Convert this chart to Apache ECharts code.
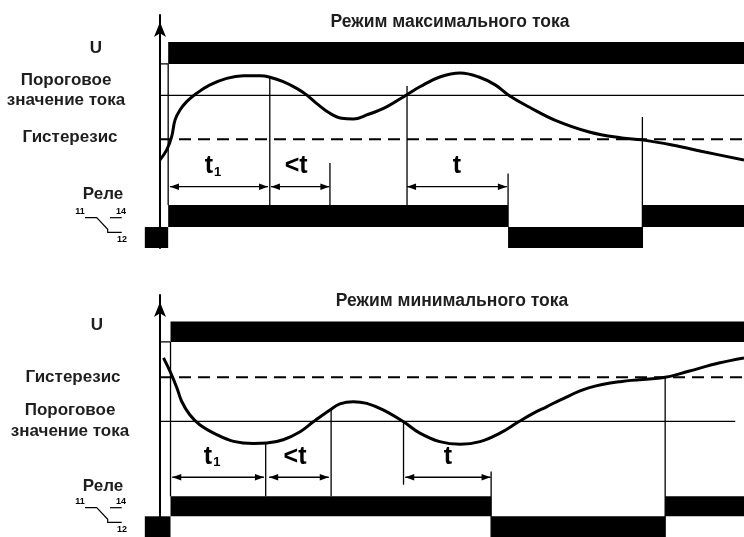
<!DOCTYPE html>
<html><head><meta charset="utf-8">
<script src="https://cdn.jsdelivr.net/npm/echarts@6/dist/echarts.min.js"></script>
<style>html,body{margin:0;padding:0;background:#fff}#c{width:744px;height:537px}</style>
</head><body><div id="c"></div>
<script>
const FONT = '"Liberation Sans", Arial, Helvetica, sans-serif';

// ===== Panel 1: Режим максимального тока (time 0..100, level 0..100)
const maxTitle = 'Режим максимального тока';
const maxCurve = [[0,37.8],[1.15,42.1],[2.0,47.8],[2.57,54.9],[3.42,59.2],[4.57,62.8],[6.28,66.4],[8.56,70.0],[11.42,72.8],[14.26,73.9],[17.12,73.9],[18.84,73.3],[21.1,71.4],[23.4,68.5],[25.1,65.7],[26.8,62.1],[29.1,57.8],[31.1,55.7],[33.1,55.4],[35.4,57.1],[38.8,60.6],[42.2,65.7],[44.5,69.2],[47.9,73.4],[51.4,75.1],[54.6,73.4],[57.4,70.0],[59.9,65.2],[63.2,60.5],[67.6,54.9],[73.5,49.8],[79.1,47.2],[82.5,46.4],[87.7,44.2],[93.3,41.2],[100,37.8]];
const maxThreshold = 65.5;
const maxHysteresis = 46.7;
const maxU = [[1.4,100,79.0,88.4]];               // [start, end, low, high]
const maxULow = [[0,79.0],[1.4,79.0]];
const maxRelay = [[-2.6,1.4,0,9.0],[1.4,59.6,9.0,18.5],[59.6,82.6,0,9.0],[82.6,100,9.0,18.5]];
const maxMarkers = [[1.4,18.5,79.0],[18.8,18.5,73.3],[29.1,18.5,36.5],[42.3,18.5,69.5],[59.6,9.0,32.0],[82.6,0,56.2]];
const maxSpans = [[1.7,18.5,26.3],[19.0,29.0,26.3],[42.3,59.4,26.3]];
const maxSpanLabels = ['t1','<t','t'];

// ===== Panel 2: Режим минимального тока
const minTitle = 'Режим минимального тока';
const minCurve = [[0.6,74.0],[1.7,68.5],[2.9,61.6],[3.7,56.1],[5.1,50.5],[6.8,46.4],[9.7,42.3],[12.6,39.5],[16.0,38.6],[18.3,38.8],[21.1,40.2],[24.0,43.5],[26.25,47.6],[29.1,52.5],[30.8,55.0],[33.1,55.9],[35.4,55.2],[38.2,52.5],[41.7,47.6],[44.5,42.9],[47.9,39.4],[51.4,38.3],[54.8,39.4],[58.2,42.9],[61.4,47.6],[63.9,51.1],[66.2,53.8],[68.5,56.6],[73.4,61.6],[79.1,64.3],[86.5,66.0],[90.5,68.5],[95.7,71.9],[100,74.0]];
const minThreshold = 47.8;
const minThresholdEnd = 98.5;
const minHysteresis = 66.0;
const minU = [[1.8,100,80.6,89.1]];
const minULow = [[0,80.6],[1.8,80.6]];
const minRelay = [[-2.6,1.8,0,8.55],[1.8,56.7,8.55,16.8],[56.7,86.5,0,8.55],[86.5,100,8.55,16.8]];
const minMarkers = [[1.8,16.8,80.6],[18.1,16.8,38.8],[29.3,16.8,52.5],[41.7,21.6,47.8],[56.7,0,27.1],[86.5,0,66.0]];
const minSpans = [[2.1,17.8,24.7],[18.7,28.9,24.7],[42.0,56.6,24.7]];
const minSpanLabels = ['t1','<t','t'];

// level captions
const capU = 'U';
const capThreshold = 'Пороговое\nзначение тока';
const capHyst = 'Гистерезис';
const capRelay = 'Реле';
const contactLabels = ['11','14','12'];

const chart = echarts.init(document.getElementById('c'), null, {renderer:'canvas'});

function rectRender(params, api){
  const a = api.coord([api.value(0), api.value(3)]);
  const b = api.coord([api.value(1), api.value(2)]);
  return {type:'rect', shape:{x:a[0], y:a[1], width:b[0]-a[0], height:b[1]-a[1]}, style:{fill:'#000'}};
}
function vlineRender(params, api){
  const a = api.coord([api.value(0), api.value(1)]);
  const b = api.coord([api.value(0), api.value(2)]);
  return {type:'line', shape:{x1:a[0], y1:a[1], x2:b[0], y2:b[1]}, style:{stroke:'#000', lineWidth:1.3}};
}
function makeSpanRender(labels){
  return function(params, api){
    const a = api.coord([api.value(0), api.value(2)]);
    const b = api.coord([api.value(1), api.value(2)]);
    const y = a[1];
    const L = 9, H = 3.2;
    const lab = labels[params.dataIndex];
    let txt = lab === 't1' ? '{a|t}{b|1}' : '{a|' + lab + '}';
    return {type:'group', children:[
      {type:'line', shape:{x1:a[0], y1:y, x2:b[0], y2:y}, style:{stroke:'#000', lineWidth:1.3}},
      {type:'polygon', shape:{points:[[a[0],y],[a[0]+L,y-H],[a[0]+L,y+H]]}, style:{fill:'#000'}},
      {type:'polygon', shape:{points:[[b[0],y],[b[0]-L,y-H],[b[0]-L,y+H]]}, style:{fill:'#000'}},
      {type:'text', x:(a[0]+b[0])/2 - (lab==='t1'?6:(lab==='<t'?4:0)), y:y-8, style:{
        text: txt, align:'center', verticalAlign:'bottom', fill:'#000',
        rich:{
          a:{fontSize:25, fontWeight:'bold', fontFamily:FONT, fill:'#000'},
          b:{fontSize:13, fontWeight:'bold', fontFamily:FONT, fill:'#000', verticalAlign:'bottom', padding:[0,0,0,1]}
        }
      }}
    ]};
  };
}

function panelSeries(idx, d){
  return [
    {type:'line', xAxisIndex:idx, yAxisIndex:idx, data:[[0,d.thr],[d.thrEnd,d.thr]], symbol:'none', silent:true,
      lineStyle:{color:'#000', width:1.3}, z:2},
    {type:'line', xAxisIndex:idx, yAxisIndex:idx, data:[[0,d.hyst],[100,d.hyst]], symbol:'none', silent:true,
      lineStyle:{color:'#000', width:2, type:[12,7]}, z:2},
    {type:'line', xAxisIndex:idx, yAxisIndex:idx, data:d.uLow, symbol:'none', silent:true,
      lineStyle:{color:'#000', width:1.3}, z:2},
    {type:'custom', xAxisIndex:idx, yAxisIndex:idx, data:d.markers, renderItem:vlineRender, encode:{x:0, y:[1,2]}, clip:false, silent:true, z:3},
    {type:'line', xAxisIndex:idx, yAxisIndex:idx, data:d.curve, symbol:'none', smooth:0.4, silent:true,
      lineStyle:{color:'#000', width:3}, z:4},
    {type:'custom', xAxisIndex:idx, yAxisIndex:idx, data:d.u, renderItem:rectRender, encode:{x:[0,1], y:[2,3]}, clip:false, silent:true, z:5},
    {type:'custom', xAxisIndex:idx, yAxisIndex:idx, data:d.relay, renderItem:rectRender, encode:{x:[0,1], y:[2,3]}, clip:false, silent:true, z:5},
    {type:'custom', xAxisIndex:idx, yAxisIndex:idx, data:d.spans, renderItem:makeSpanRender(d.spanLabels), encode:{x:[0,1], y:2}, clip:false, silent:true, z:6}
  ];
}

function txt(text, x, y, size, lh){
  return {type:'text', x:x, y:y, silent:true, style:{text:text, align:'center', verticalAlign:'middle',
    font:'bold '+size+'px '+FONT, fill:'#1e1e1e', lineHeight: lh||20}};
}
function contact(dy){
  return {type:'group', x:0, y:dy, silent:true, children:[
    {type:'polyline', shape:{points:[[85,217.7],[96.7,217.7],[107.7,229.3],[107.7,232.3],[121.7,232.3]]}, style:{stroke:'#000', lineWidth:1.2, fill:null}},
    {type:'line', shape:{x1:110, y1:217.7, x2:121.7, y2:217.7}, style:{stroke:'#000', lineWidth:1.2}},
    {type:'text', x:80, y:212, style:{text:contactLabels[0], align:'center', verticalAlign:'middle', font:'bold 9px '+FONT, fill:'#000'}},
    {type:'text', x:121, y:211.5, style:{text:contactLabels[1], align:'center', verticalAlign:'middle', font:'bold 9px '+FONT, fill:'#000'}},
    {type:'text', x:122, y:240, style:{text:contactLabels[2], align:'center', verticalAlign:'middle', font:'bold 9px '+FONT, fill:'#000'}}
  ]};
}

const yAx = (i) => ({gridIndex:i, type:'value', min:0, max:100,
  axisLine:{show:true, onZero:false, lineStyle:{color:'#000', width:2}, symbol:['none','arrow'], symbolSize:[9,15], symbolOffset:[0,-7]},
  axisTick:{show:false}, axisLabel:{show:false}, splitLine:{show:false}});
const xAx = (i) => ({gridIndex:i, type:'value', min:0, max:100, show:false});

chart.setOption({
  animation:false,
  backgroundColor:'#fff',
  grid:[
    {left:160, right:0, top:15, height:233},
    {left:160, right:0, top:295, height:242}
  ],
  xAxis:[xAx(0), xAx(1)],
  yAxis:[yAx(0), yAx(1)],
  series:[].concat(
    panelSeries(0, {thr:maxThreshold, thrEnd:100, hyst:maxHysteresis, uLow:maxULow, markers:maxMarkers, curve:maxCurve, u:maxU, relay:maxRelay, spans:maxSpans, spanLabels:maxSpanLabels}),
    panelSeries(1, {thr:minThreshold, thrEnd:minThresholdEnd, hyst:minHysteresis, uLow:minULow, markers:minMarkers, curve:minCurve, u:minU, relay:minRelay, spans:minSpans, spanLabels:minSpanLabels})
  ),
  graphic:[
    txt(maxTitle, 450, 22, 17.5),
    txt(minTitle, 452, 301, 17.5),
    txt(capU, 96, 48, 17),
    txt(capThreshold, 66, 90, 17),
    txt(capHyst, 70, 137, 17),
    txt(capRelay, 103, 194, 17),
    txt(capU, 97, 325, 17),
    txt(capHyst, 73, 377, 17),
    txt(capThreshold, 70, 420.5, 17, 21),
    txt(capRelay, 103, 486, 17),
    contact(0),
    contact(290)
  ]
});
</script>
</body></html>
